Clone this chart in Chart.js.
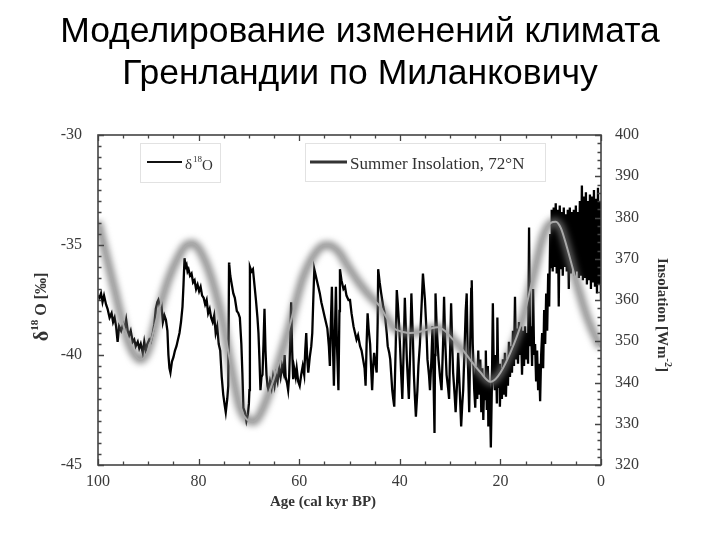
<!DOCTYPE html>
<html>
<head>
<meta charset="utf-8">
<script src="https://cdn.jsdelivr.net/npm/chart.js@4.4.1/dist/chart.umd.min.js"></script>
<style>
html,body{margin:0;padding:0;background:#fff;}
#wrap{width:720px;height:540px;position:relative;}
</style>
</head>
<body>
<div id="wrap"><canvas id="c" width="720" height="540"></canvas></div>
<script>
// ---- Text ----
const titleLines = ['Моделирование изменений климата', 'Гренландии по Миланковичу'];
const xTitle = 'Age (cal kyr BP)';
const legendLabels = ['δ18O', 'Summer Insolation, 72°N'];

// ---- Axis ticks ----
const xTicks = [100, 80, 60, 40, 20, 0];
const o18Ticks = [-30, -35, -40, -45];
const insTicks = [400, 390, 380, 370, 360, 350, 340, 330, 320];

// ---- δ18O series (age kyr BP, ‰) ----
const o18Age = [
100.0,99.7,99.4,99.1,98.8,98.4,98.1,97.7,97.3,97.0,96.7,96.4,96.1,95.8,95.4,95.0,94.7,94.4,94.1,93.8,
93.5,93.1,92.8,92.5,92.1,91.8,91.5,91.1,90.8,90.5,90.2,89.8,89.5,89.1,88.8,88.5,88.2,88.0,87.7,87.4,
87.1,86.8,86.5,86.2,86.0,85.8,85.6,85.3,85.0,84.7,84.4,84.1,83.8,83.5,83.2,83.0,82.8,82.6,82.4,82.2,
82.0,81.7,81.4,81.1,80.8,80.5,80.2,79.9,79.6,79.3,79.0,78.7,78.4,78.1,77.8,77.5,77.2,76.9,76.6,76.3,
76.0,75.7,75.4,75.1,74.8,74.6,74.3,74.1,73.95,73.9,73.7,73.4,73.1,72.8,72.4,72.1,71.8,71.5,71.3,71.1,
70.8,70.5,70.2,70.0,69.9,69.8,69.5,69.2,68.9,68.6,68.3,68.1,67.9,67.7,67.5,67.3,67.1,66.9,66.7,66.5,
66.3,66.1,65.8,65.5,65.2,64.9,64.6,64.3,64.0,63.7,63.4,63.1,62.9,62.7,62.4,62.2,62.0,61.8,61.6,61.4,
61.2,61.0,60.7,60.5,60.2,59.9,59.6,59.3,59.0,58.8,58.6,58.4,58.2,57.9,57.6,57.4,57.2,57.0,56.8,56.5,
56.2,55.9,55.6,55.3,55.0,54.7,54.4,54.1,53.9,53.7,53.5,53.3,53.1,52.9,52.7,52.5,52.2,52.0,51.9,51.6,
51.2,50.9,50.6,50.2,49.9,49.6,49.2,48.9,48.6,48.3,47.9,47.6,47.3,47.0,46.8,46.6,46.4,46.2,45.9,45.7,
45.5,45.3,45.1,44.9,44.6,44.4,44.3,44.0,43.7,43.5,43.3,43.1,42.9,42.6,42.4,42.1,41.9,41.7,41.5,41.3,
41.1,40.8,40.6,40.4,40.1,39.9,39.7,39.5,39.2,39.0,38.8,38.6,38.4,38.2,37.9,37.7,37.4,37.2,37.0,36.8,
36.5,36.3,36.0,35.8,35.6,35.4,35.2,35.0,34.7,34.5,34.2,34.0,33.7,33.5,33.3,33.1,33.0,32.9,32.7,32.5,
32.3,32.0,31.7,31.4,31.2,31.0,30.7,30.4,30.2,30.0,29.8,29.6,29.4,29.1,28.9,28.6,28.4,28.1,27.8,27.6,
27.4,27.1,26.9,26.7,26.5,26.2,26.0,25.8,25.7,25.5,25.2,
25.0,24.8,24.6,24.4,24.2,24.0,23.8,23.6,23.4,23.2,23.0,22.9,22.7,22.5,22.4,22.2,22.0,21.9,21.7,21.5,
21.3,21.1,20.9,20.7,20.6,20.4,20.2,20.1,19.9,19.7,19.5,19.3,19.1,18.9,18.7,18.5,18.3,18.1,17.9,17.7,
17.5,17.3,17.1,16.9,16.7,16.5,16.3,16.1,15.9,15.7,15.5,15.3,15.1,14.9,14.7,14.5,14.3,14.1,13.9,13.7,
13.5,13.3,13.1,12.9,12.7,12.5,12.3,12.1,11.9,11.7,11.5,11.3,11.1,10.9,10.7,10.5,10.3,10.1,9.9,9.8,
9.6,9.4,9.2,9.0,8.8,8.6,8.4,8.2,8.0,7.8,7.6,7.4,7.2,7.0,6.8,6.6,6.4,6.2,6.0,5.8,
5.6,5.4,5.2,5.0,4.8,4.6,4.4,4.2,4.0,3.8,3.6,3.4,3.2,3.0,2.8,2.6,2.4,2.2,2.0,1.8,
1.6,1.4,1.2,1.0,0.8,0.6,0.4,0.2,0.0
];
const o18Val = [
-37.3,-37.4,-37.2,-37.6,-37.3,-37.7,-37.9,-38.3,-38.1,-38.5,-38.3,-38.7,-39.4,-38.7,-38.9,-38.6,-38.8,-38.4,-38.9,-39.1,
-38.9,-39.4,-39.3,-39.6,-39.4,-39.7,-39.5,-39.9,-39.4,-39.8,-39.5,-39.3,-39.4,-39.0,-38.6,-37.9,-37.6,-37.5,-37.8,-37.7,
-38.5,-38.2,-38.4,-38.9,-40.0,-40.6,-40.8,-40.3,-40.1,-39.8,-39.6,-39.3,-39.0,-38.5,-37.8,-36.8,-35.6,-36.0,-35.9,-36.2,
-36.1,-36.4,-36.3,-36.7,-36.6,-37.0,-36.8,-37.1,-36.9,-37.3,-37.4,-37.7,-37.5,-38.1,-37.9,-38.3,-38.5,-38.2,-39.0,-38.7,
-39.5,-39.8,-41.0,-41.8,-42.3,-42.6,-42.0,-41.4,-35.8,-35.9,-36.4,-36.8,-37.2,-37.4,-38.0,-38.1,-38.3,-39.5,-40.8,-42.4,
-42.6,-43.0,-42.7,-42.2,-41.6,-36.0,-36.2,-36.1,-36.8,-37.5,-38.3,-39.0,-40.2,-41.6,-41.0,-40.9,-39.5,-37.9,-39.8,-40.9,
-41.4,-41.6,-41.2,-41.5,-41.0,-41.4,-40.9,-41.2,-40.6,-41.0,-40.5,-40.8,-40.0,-41.0,-41.3,-41.6,-41.0,-39.5,-37.6,-39.8,
-41.1,-40.6,-41.0,-40.6,-41.2,-41.4,-40.9,-40.5,-40.9,-39.8,-39.0,-40.2,-40.8,-40.1,-39.6,-39.0,-37.5,-36.1,-36.3,-36.6,
-36.9,-37.2,-37.6,-37.9,-38.2,-38.5,-38.8,-39.6,-40.5,-38.5,-36.9,-39.5,-41.4,-39.0,-36.9,-39.5,-41.6,-38.0,-36.1,-36.6,
-37.0,-36.9,-37.3,-37.5,-37.5,-38.1,-38.7,-39.0,-39.3,-39.1,-39.6,-39.8,-40.2,-40.6,-41.4,-39.5,-38.1,-38.8,-39.5,-40.6,
-41.6,-40.5,-39.9,-40.3,-40.8,-38.5,-36.1,-36.7,-37.2,-37.5,-37.8,-38.0,-38.3,-39.0,-39.6,-39.9,-40.2,-40.9,-41.6,-42.0,
-42.35,-39.5,-37.05,-37.65,-38.8,-39.9,-41.0,-42.0,-39.5,-37.4,-38.8,-40.2,-41.1,-42.0,-39.6,-37.2,-39.2,-40.9,-41.9,-42.8,
-41.6,-40.5,-39.5,-38.4,-37.4,-36.3,-36.9,-37.5,-38.9,-40.2,-40.9,-41.6,-40.1,-38.7,-41.0,-43.55,-40.0,-37.2,-38.5,-39.4,
-40.2,-41.0,-41.6,-39.5,-37.35,-39.2,-40.9,-41.5,-42.0,-39.8,-37.65,-39.4,-40.8,-41.8,-42.6,-41.2,-39.9,-41.5,-43.25,-42.3,
-41.6,-39.5,-38.0,-37.2,-39.9,-42.6,-39.5,-37.0,-36.6,-39.5,-41.6,
-42.4,-40.5,-42.0,-39.8,-41.8,-40.2,-42.6,-40.6,-42.95,-41.0,-42.0,-39.8,-42.5,-40.5,-43.25,-41.2,-43.0,-44.2,-41.5,-37.65,
-41.0,-41.6,-40.0,-42.2,-38.3,-41.5,-40.4,-42.35,-40.6,-42.0,-40.2,-41.8,-39.9,-41.9,-40.2,-41.4,-39.4,-41.0,-39.6,-40.8,
-38.9,-40.5,-37.35,-40.2,-38.8,-40.4,-38.5,-40.0,-38.7,-40.9,-38.9,-40.5,-38.7,-40.2,-39.0,-40.4,-34.2,-39.6,-38.7,-40.5,
-37.0,-40.0,-39.5,-41.2,-39.8,-41.6,-40.4,-42.1,-40.0,-39.0,-40.6,-37.95,-39.5,-37.2,-38.9,-36.3,-37.8,-34.5,-36.0,-33.4,
-36.2,-33.3,-36.0,-33.1,-36.3,-33.4,-37.8,-33.2,-36.1,-33.5,-36.4,-33.3,-36.0,-33.6,-36.2,-33.4,-37.0,-33.3,-36.3,-33.5,
-36.1,-33.4,-36.4,-33.2,-36.2,-33.5,-36.5,-33.0,-36.4,-32.3,-36.6,-32.8,-36.5,-32.6,-36.8,-33.0,-36.6,-32.7,-37.0,-32.8,
-36.7,-32.5,-36.9,-32.9,-37.2,-32.4,-36.8,-33.0,-37.5
];

// ---- Summer insolation 72°N (age kyr BP, W m-2) ----
const insAge = [100,97,94,91.5,90,88,86,84,82.5,81.2,80,78,76,75,73.8,71.8,69.1,67.5,65.8,62.5,
59.2,57,55,54,52,50.5,48,46,44,42.5,41,40,38,36,34,32.5,31,29.5,27.7,26,
24,22,20.5,18.1,15.4,13.5,11.5,10,9,8,6.8,4.8,2.8,0.5,0];
const insVal = [379,364,350,345.5,348,357,365,370.5,373.3,373.7,372.5,367.3,359,353.5,345.5,334.1,330.5,333,338.2,351.1,
365.6,371,373.3,373.3,371.5,368.5,364,361,358.5,355.5,353,352.5,352,352.3,353,353.4,352.5,350.5,348.2,345.5,
342.5,340.2,341.5,347,356,365.6,375.4,378.7,379,377.5,372.9,364,356,349.5,348.5];

const o18Points = o18Age.map((a, i) => ({x: a, y: o18Val[i]}));
const insPoints = insAge.map((a, i) => ({x: a, y: insVal[i]}));

const SERIF = '"Liberation Serif","Times New Roman",serif';
const SANS = '"Liberation Sans",Arial,sans-serif';

function drawRich(ctx, parts, cx, cy, rot, color) {
  ctx.save();
  ctx.translate(cx, cy);
  ctx.rotate(rot);
  let w = 0;
  parts.forEach(p => { ctx.font = p.f; w += ctx.measureText(p.t).width; });
  let x = -w / 2;
  ctx.fillStyle = color;
  ctx.textBaseline = 'middle';
  ctx.textAlign = 'left';
  parts.forEach(p => {
    ctx.font = p.f;
    ctx.fillText(p.t, x, p.dy || 0);
    x += ctx.measureText(p.t).width;
  });
  ctx.restore();
}

const decor = {
  id: 'decor',
  beforeDraw(chart) {
    const ctx = chart.ctx;
    ctx.save();
    ctx.fillStyle = '#fff';
    ctx.fillRect(0, 0, chart.width, chart.height);
    ctx.fillStyle = '#000';
    ctx.font = '35.5px ' + SANS;
    ctx.textAlign = 'center';
    ctx.textBaseline = 'alphabetic';
    ctx.fillText(titleLines[0], 360, 42);
    ctx.fillText(titleLines[1], 360, 83.5);
    ctx.restore();
  },
  beforeDatasetDraw(chart, args) {
    const ds = chart.data.datasets[args.index];
    if (ds.glow) {
      chart.ctx.save();
      chart.ctx.filter = 'blur(' + ds.glow + 'px)';
    }
  },
  afterDatasetDraw(chart, args) {
    const ds = chart.data.datasets[args.index];
    if (ds.glow) chart.ctx.restore();
  },
  afterDraw(chart) {
    const ctx = chart.ctx;
    const a = chart.chartArea;
    const xs = chart.scales.x, yl = chart.scales.yL, yr = chart.scales.yR;
    ctx.save();
    ctx.strokeStyle = '#444';
    ctx.lineWidth = 1.3;
    ctx.beginPath();
    for (let v = 0; v <= 100; v += 5) {
      const px = Math.round(xs.getPixelForValue(v)) + 0.5;
      const len = v % 20 === 0 ? 6 : 3.5;
      ctx.moveTo(px, a.bottom); ctx.lineTo(px, a.bottom - len);
      ctx.moveTo(px, a.top); ctx.lineTo(px, a.top + len);
    }
    for (let v = -45; v <= -30; v += 0.5) {
      const py = Math.round(yl.getPixelForValue(v)) + 0.5;
      const len = v % 5 === 0 ? 6 : 3.5;
      ctx.moveTo(a.left, py); ctx.lineTo(a.left + len, py);
    }
    for (let v = 320; v <= 400; v += 2) {
      const py = Math.round(yr.getPixelForValue(v)) + 0.5;
      const len = v % 10 === 0 ? 6 : 3.5;
      ctx.moveTo(a.right, py); ctx.lineTo(a.right - len, py);
    }
    ctx.stroke();
    ctx.lineWidth = 1.6;
    ctx.strokeRect(a.left, a.top, a.right - a.left, a.bottom - a.top);

    // legend boxes
    ctx.lineWidth = 1;
    ctx.strokeStyle = '#e2e2e2';
    ctx.fillStyle = '#fff';
    ctx.fillRect(140, 143, 80, 39); ctx.strokeRect(140.5, 143.5, 80, 39);
    ctx.fillRect(305, 143, 240, 38); ctx.strokeRect(305.5, 143.5, 240, 38);
    ctx.strokeStyle = '#111'; ctx.lineWidth = 2;
    ctx.beginPath(); ctx.moveTo(147, 162); ctx.lineTo(182, 162); ctx.stroke();
    ctx.strokeStyle = '#333'; ctx.lineWidth = 3;
    ctx.beginPath(); ctx.moveTo(310, 162); ctx.lineTo(347, 162); ctx.stroke();
    ctx.fillStyle = '#333';
    ctx.textBaseline = 'alphabetic';
    ctx.textAlign = 'left';
    ctx.font = '15px ' + SERIF;
    ctx.fillText('δ', 185, 169);
    ctx.font = '9px ' + SERIF;
    ctx.fillText('18', 193, 162);
    ctx.font = '15px ' + SERIF;
    ctx.fillText('O', 202, 170);
    ctx.font = '17px ' + SERIF;
    ctx.fillText(legendLabels[1], 350, 169);
    ctx.restore();

    // axis titles
    drawRich(ctx, [
      {t: 'δ', f: 'bold 20px ' + SERIF, dy: 1},
      {t: '18', f: 'bold 11px ' + SERIF, dy: -7},
      {t: ' O [‰]', f: 'bold 16px ' + SERIF}
    ], 42, 307, -Math.PI / 2, '#333');
    drawRich(ctx, [
      {t: 'Insolation [Wm', f: 'bold 15px ' + SERIF},
      {t: '-2', f: 'bold 10px ' + SERIF, dy: -6},
      {t: ']', f: 'bold 15px ' + SERIF}
    ], 662, 315, Math.PI / 2, '#333');
    drawRich(ctx, [{t: xTitle, f: 'bold 15px ' + SERIF}], 323, 502, 0, '#333');
  }
};

new Chart(document.getElementById('c'), {
  type: 'line',
  data: {
    datasets: [
      {label: legendLabels[1], data: insPoints, yAxisID: 'yR', borderColor: '#a9a9a9', borderWidth: 2,
       pointRadius: 0, cubicInterpolationMode: 'monotone', order: 0},
      {label: legendLabels[1], data: insPoints, yAxisID: 'yR', borderColor: 'rgba(115,115,115,0.8)', borderWidth: 8,
       pointRadius: 0, cubicInterpolationMode: 'monotone', order: 1, glow: 3},
      {label: legendLabels[0], data: o18Points, yAxisID: 'yL', borderColor: '#000', borderWidth: 2.3,
       pointRadius: 0, tension: 0, order: 2}
    ]
  },
  options: {
    responsive: false,
    animation: false,
    events: [],
    layout: {padding: {top: 135, left: 0, right: 0, bottom: 0}},
    plugins: {legend: {display: false}, title: {display: false}, tooltip: {enabled: false}},
    scales: {
      x: {
        type: 'linear', position: 'bottom', min: 0, max: 100, reverse: true,
        grid: {display: false, drawTicks: false}, border: {display: false},
        afterBuildTicks: s => { s.ticks = xTicks.map(v => ({value: v})); },
        ticks: {padding: 7, color: '#3a3a3a', font: {family: SERIF, size: 16}, maxRotation: 0, autoSkip: false},
        afterFit: s => { s.height = 75; }
      },
      yL: {
        type: 'linear', position: 'left', min: -45, max: -30,
        grid: {display: false, drawTicks: false}, border: {display: false},
        afterBuildTicks: s => { s.ticks = o18Ticks.map(v => ({value: v})); },
        ticks: {padding: 16, color: '#3a3a3a', font: {family: SERIF, size: 16}},
        afterFit: s => { s.width = 98; }
      },
      yR: {
        type: 'linear', position: 'right', min: 320, max: 400,
        grid: {display: false, drawTicks: false}, border: {display: false},
        afterBuildTicks: s => { s.ticks = insTicks.map(v => ({value: v})); },
        ticks: {padding: 14, color: '#3a3a3a', font: {family: SERIF, size: 16}},
        afterFit: s => { s.width = 119; }
      }
    }
  },
  plugins: [decor]
});
</script>
</body>
</html>
